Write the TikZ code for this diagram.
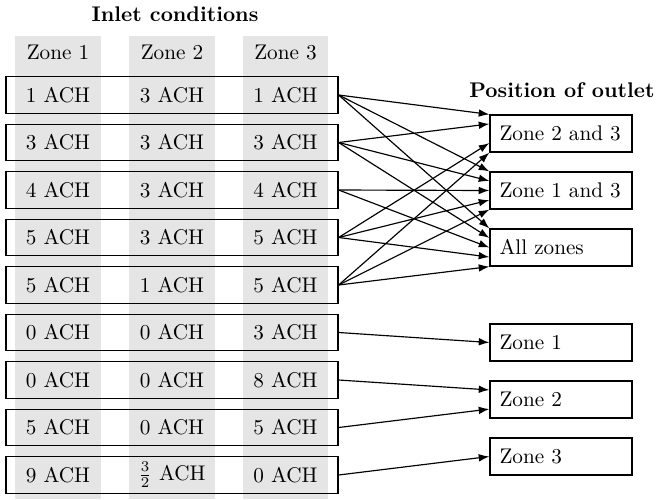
\documentclass[tikz,border=0pt]{standalone}
\usetikzlibrary{arrows.meta,calc}
\begin{document}
\begin{tikzpicture}[x=0.4717pt,y=-0.4717pt,
  colbg/.style={fill=gray!20, draw=none},
  rowbox/.style={draw, line width=0.6pt, minimum width=156.6pt, minimum height=17.2pt, inner sep=0pt},
  cell/.style={inner sep=0pt},
  outbox/.style={draw, line width=0.6pt, minimum height=17.45pt, text width=58pt, inner xsep=4.5pt, inner ysep=0pt, align=left},
  title/.style={font=\bfseries},
  conn/.style={-{Latex[length=5pt,width=3.6pt]}, line width=0.55pt}]
\useasboundingbox (0,0) rectangle (659,499);
% grey column backgrounds
\fill[colbg] (15,36) rectangle (101,499);
\fill[colbg] (129,36) rectangle (215,499);
\fill[colbg] (243,36) rectangle (328,499);
% titles
\node[title] (tin) at (175,14) {Inlet conditions};
\node[title] (tout) at (562,90) {Position of outlet};
% column headers
\node[cell] (h1) at (58,52) {Zone 1};
\node[cell] (h2) at (172,52) {Zone 2};
\node[cell] (h3) at (285.5,52) {Zone 3};
% rows
\foreach \i/\a/\b/\c in {1/1/3/1, 2/3/3/3, 3/4/3/4, 4/5/3/5, 5/5/1/5, 6/0/0/3, 7/0/0/8, 8/5/0/5, 9/9/{$\frac{3}{2}$}/0}{
  \node[rowbox] (r\i) at (172,{95+47.5*(\i-1)}) {};
  \node[cell] (c\i a) at (58,{95+47.5*(\i-1)}) {\a{} ACH};
  \node[cell] (c\i b) at (172,{95+47.5*(\i-1)}) {\b{} ACH};
  \node[cell] (c\i c) at (285.5,{95+47.5*(\i-1)}) {\c{} ACH};
}
% outlet boxes
\node[outbox] (z23) at (561,133.5) {Zone 2 and 3};
\node[outbox] (z13) at (561,190.5) {Zone 1 and 3};
\node[outbox] (zall) at (561,247.5) {All zones};
\node[outbox] (o1) at (561,342.5) {Zone 1};
\node[outbox] (o2) at (561,399.5) {Zone 2};
\node[outbox] (o3) at (561,456.5) {Zone 3};
% connectors
\foreach \r/\f in {1/0, 2/0.25, 4/0.75, 5/1}
  \draw[conn] (r\r.east) -- ($(z23.north west)!\f!(z23.south west)$);
\foreach \r/\f in {1/0, 2/0.25, 3/0.5, 4/0.75, 5/1}{
  \draw[conn] (r\r.east) -- ($(z13.north west)!\f!(z13.south west)$);
  \draw[conn] (r\r.east) -- ($(zall.north west)!\f!(zall.south west)$);
}
\draw[conn] (r6.east) -- (o1.west);
\draw[conn] (r7.east) -- ($(o2.north west)!0.25!(o2.south west)$);
\draw[conn] (r8.east) -- ($(o2.north west)!0.75!(o2.south west)$);
\draw[conn] (r9.east) -- (o3.west);
\end{tikzpicture}
\end{document}
